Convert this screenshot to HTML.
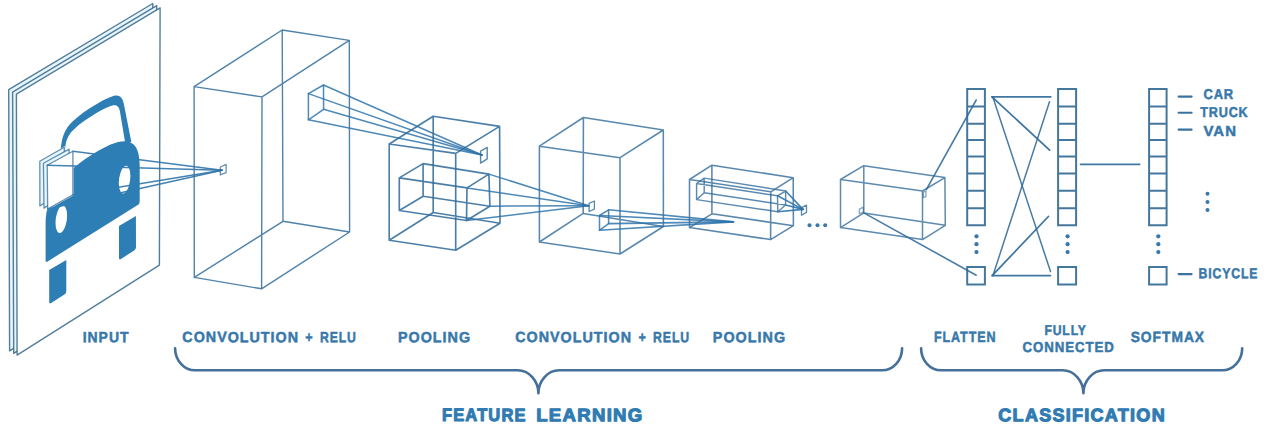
<!DOCTYPE html>
<html lang="en"><head><meta charset="utf-8"><title>CNN architecture</title>
<style>
html,body{margin:0;padding:0;background:#fff;overflow:hidden}
svg{display:block}
text{font-family:"Liberation Sans",sans-serif;font-weight:bold;letter-spacing:0.07em}
</style></head><body>
<svg width="1266" height="430" viewBox="0 0 1266 430">
<rect width="1266" height="430" fill="#fff"/>
<path d="M8.7,89.6 L152.8,3.5 L153.2,260.0 L9.6,350.8 Z" fill="#e8f6fb" stroke="#35678a" stroke-opacity="0.85" stroke-width="1.4" stroke-linejoin="round" stroke-linecap="round"/>
<path d="M12.6,92.1 L156.7,5.7 L156.9,262.0 L13.7,353.3 Z" fill="#e8f6fb" stroke="#35678a" stroke-opacity="0.85" stroke-width="1.4" stroke-linejoin="round" stroke-linecap="round"/>
<path d="M16.4,94.2 L160.1,7.8 L159.4,265.1 L17.1,355.1 Z" fill="#fff" stroke="#35678a" stroke-opacity="0.85" stroke-width="1.4" stroke-linejoin="round" stroke-linecap="round"/>
<path d="M39.8,161.3 L64.3,147.2 L64.6,190.0 L39.9,206.0 Z" fill="#e8f6fb" stroke="#2f6a9a" stroke-opacity="0.75" stroke-width="1.3" stroke-linejoin="round" stroke-linecap="round"/>
<path d="M43.4,163.2 L69.1,149.1 L69.1,192.0 L44.0,208.1 Z" fill="#e8f6fb" stroke="#2f6a9a" stroke-opacity="0.75" stroke-width="1.3" stroke-linejoin="round" stroke-linecap="round"/>
<path d="M47.2,165.2 L72.9,151.2 L72.9,194.8 L47.7,209.0 Z" fill="#fff" stroke="#2f6a9a" stroke-opacity="0.75" stroke-width="1.3" stroke-linejoin="round" stroke-linecap="round"/>
<path d="M47.2,165.2 L222.1,170.2" fill="none" stroke="#2f74aa" stroke-opacity="0.9" stroke-width="1.4" stroke-linejoin="round" stroke-linecap="round"/>
<path d="M72.9,151.2 L222.1,170.2" fill="none" stroke="#2f74aa" stroke-opacity="0.9" stroke-width="1.4" stroke-linejoin="round" stroke-linecap="round"/>
<path d="M72.9,194.8 L222.1,170.2" fill="none" stroke="#2f74aa" stroke-opacity="0.9" stroke-width="1.4" stroke-linejoin="round" stroke-linecap="round"/>
<path d="M47.7,209.0 L222.1,170.2" fill="none" stroke="#2f74aa" stroke-opacity="0.9" stroke-width="1.4" stroke-linejoin="round" stroke-linecap="round"/>
<path d="M220.3,167.0 L226.1,164.4 L226.1,172.7 L220.3,174.9 Z" fill="none" stroke="#2f6a9a" stroke-opacity="0.75" stroke-width="1.3" stroke-linejoin="round" stroke-linecap="round"/>
<mask id="carmask" maskUnits="userSpaceOnUse" x="0" y="0" width="320" height="430"><rect x="0" y="0" width="320" height="430" fill="#fff"/><polygon points="39.8,161.3 64.3,147.2 64.6,190.0 39.9,206.0" fill="#000" stroke="#000" stroke-width="1.4"/><polygon points="43.4,163.2 69.1,149.1 69.1,192.0 44.0,208.1" fill="#000" stroke="#000" stroke-width="1.4"/><polygon points="47.2,165.2 72.9,151.2 72.9,194.8 47.7,209.0" fill="#000" stroke="#000" stroke-width="1.4"/></mask>
<g mask="url(#carmask)" fill="#2d7eb4"><g transform="matrix(1,-0.627,0,1,0,0)">
<path fill-rule="evenodd" d="M45.6,289 L45.6,253 C45.6,223.3 62.1,212.2 92.6,212.2 C123.1,212.2 139.7,223.3 139.7,253 L139.7,289 Q139.7,291.3 137.7,291.3 L47.6,291.3 Q45.6,291.3 45.6,289 Z M61.3,244.4 A5.8,13.3 0 1 0 61.3,271 A5.8,13.3 0 1 0 61.3,244.4 Z M124.6,244.4 A5.8,13.3 0 1 0 124.6,271 A5.8,13.3 0 1 0 124.6,244.4 Z"/>
<path d="M54.4,224 L61.3,183 C62.8,174 66,167.6 76,166.2 C84,164.1 101,164.1 109.4,166.2 C119.4,167.6 122.6,174 124.1,183 L131.3,224 L125.6,224 L119.9,186.5 C118.9,180.5 116.4,176.4 109.4,175.1 C101,172.9 84,172.9 76,175.1 C69,176.4 66.5,180.5 65.5,186.5 L60.1,224 Z"/>
</g>
<path d="M49.2,270.1 L66.3,259.9 L66.3,291.2 Q66.3,293.4 64.4,294.6 L51.2,303 Q49.2,304.3 49.2,302 Z"/>
<path d="M119,226.1 L135.9,215.9 L136,247.2 Q136,249.3 134.1,250.5 L121,258.9 Q119,260.2 119,258 Z"/>
</g>
<path d="M282.2,30.0 L349.3,40.4 L349.6,232.0 L283.0,221.3 Z M194.1,86.6 L262.0,96.9 L261.6,288.8 L194.3,277.4 Z M194.1,86.6 L282.2,30.0 M262.0,96.9 L349.3,40.4 M261.6,288.8 L349.6,232.0 M194.3,277.4 L283.0,221.3" fill="none" stroke="#2f6a9a" stroke-opacity="0.84" stroke-width="1.4" stroke-linejoin="round" stroke-linecap="round"/>
<path d="M308.4,93.6 L323.5,85.0 L323.6,109.3 L308.4,119.8 Z" fill="none" stroke="#2f74aa" stroke-opacity="0.85" stroke-width="1.5" stroke-linejoin="round" stroke-linecap="round"/>
<path d="M308.4,93.6 L482.0,155.0" fill="none" stroke="#2f74aa" stroke-opacity="0.85" stroke-width="1.5" stroke-linejoin="round" stroke-linecap="round"/>
<path d="M323.5,85.0 L482.0,155.0" fill="none" stroke="#2f74aa" stroke-opacity="0.85" stroke-width="1.5" stroke-linejoin="round" stroke-linecap="round"/>
<path d="M323.6,109.3 L482.0,155.0" fill="none" stroke="#2f74aa" stroke-opacity="0.85" stroke-width="1.5" stroke-linejoin="round" stroke-linecap="round"/>
<path d="M308.4,119.8 L482.0,155.0" fill="none" stroke="#2f74aa" stroke-opacity="0.85" stroke-width="1.5" stroke-linejoin="round" stroke-linecap="round"/>
<path d="M433.2,116.2 L499.6,126.4 L500.0,223.3 L433.2,212.5 Z M389.2,144.0 L455.7,153.4 L455.7,250.2 L389.2,240.2 Z M389.2,144.0 L433.2,116.2 M455.7,153.4 L499.6,126.4 M455.7,250.2 L500.0,223.3 M389.2,240.2 L433.2,212.5" fill="none" stroke="#2f6a9a" stroke-opacity="0.86" stroke-width="1.65" stroke-linejoin="round" stroke-linecap="round"/>
<path d="M480.6,151.2 L487.2,147.4 L487.2,158.8 L480.6,163.1 Z" fill="none" stroke="#2f6a9a" stroke-opacity="0.8" stroke-width="1.4" stroke-linejoin="round" stroke-linecap="round"/>
<path d="M423.1,163.6 L488.9,174.1 L489.9,206.2 L423.1,196.2 Z M399.3,177.9 L467.0,187.9 L466.5,220.5 L399.3,210.5 Z M399.3,177.9 L423.1,163.6 M467.0,187.9 L488.9,174.1 M466.5,220.5 L489.9,206.2 M399.3,210.5 L423.1,196.2" fill="none" stroke="#2f6a9a" stroke-opacity="0.86" stroke-width="1.65" stroke-linejoin="round" stroke-linecap="round"/>
<path d="M467.0,187.9 L588.7,205.7" fill="none" stroke="#2f74aa" stroke-opacity="0.85" stroke-width="1.5" stroke-linejoin="round" stroke-linecap="round"/>
<path d="M488.9,174.1 L588.7,205.7" fill="none" stroke="#2f74aa" stroke-opacity="0.85" stroke-width="1.5" stroke-linejoin="round" stroke-linecap="round"/>
<path d="M489.9,206.2 L588.7,205.7" fill="none" stroke="#2f74aa" stroke-opacity="0.85" stroke-width="1.5" stroke-linejoin="round" stroke-linecap="round"/>
<path d="M466.5,220.5 L588.7,205.7" fill="none" stroke="#2f74aa" stroke-opacity="0.85" stroke-width="1.5" stroke-linejoin="round" stroke-linecap="round"/>
<path d="M583.4,117.5 L663.3,130.0 L663.4,226.5 L583.2,213.4 Z M539.4,146.2 L620.0,157.7 L620.0,254.0 L539.4,242.0 Z M539.4,146.2 L583.4,117.5 M620.0,157.7 L663.3,130.0 M620.0,254.0 L663.4,226.5 M539.4,242.0 L583.2,213.4" fill="none" stroke="#2f6a9a" stroke-opacity="0.8" stroke-width="1.55" stroke-linejoin="round" stroke-linecap="round"/>
<path d="M589.1,203.4 L594.4,201.0 L594.4,209.1 L589.1,211.5 Z" fill="none" stroke="#2f6a9a" stroke-opacity="0.8" stroke-width="1.3" stroke-linejoin="round" stroke-linecap="round"/>
<path d="M599.5,215.5 L608.6,209.8 L608.6,223.6 L599.5,230.3 Z" fill="none" stroke="#2f74aa" stroke-opacity="0.85" stroke-width="1.5" stroke-linejoin="round" stroke-linecap="round"/>
<path d="M599.5,215.5 L733.4,221.9" fill="none" stroke="#2f74aa" stroke-opacity="0.85" stroke-width="1.6" stroke-linejoin="round" stroke-linecap="round"/>
<path d="M608.6,209.8 L733.4,221.9" fill="none" stroke="#2f74aa" stroke-opacity="0.85" stroke-width="1.6" stroke-linejoin="round" stroke-linecap="round"/>
<path d="M608.6,223.6 L733.4,221.9" fill="none" stroke="#2f74aa" stroke-opacity="0.85" stroke-width="1.6" stroke-linejoin="round" stroke-linecap="round"/>
<path d="M599.5,230.3 L733.4,221.9" fill="none" stroke="#2f74aa" stroke-opacity="0.85" stroke-width="1.6" stroke-linejoin="round" stroke-linecap="round"/>
<path d="M711.9,165.2 L793.2,177.7 L793.4,225.7 L711.9,213.8 Z M689.5,179.5 L770.8,191.8 L770.6,239.6 L689.5,227.6 Z M689.5,179.5 L711.9,165.2 M770.8,191.8 L793.2,177.7 M770.6,239.6 L793.4,225.7 M689.5,227.6 L711.9,213.8" fill="none" stroke="#2f6a9a" stroke-opacity="0.8" stroke-width="1.55" stroke-linejoin="round" stroke-linecap="round"/>
<path d="M704.2,178.1 L785.7,191.0 L785.6,205.0 L704.2,192.8 Z M696.6,183.5 L777.5,195.8 L777.8,211.7 L696.6,199.6 Z M696.6,183.5 L704.2,178.1 M777.5,195.8 L785.7,191.0 M777.8,211.7 L785.6,205.0 M696.6,199.6 L704.2,192.8" fill="none" stroke="#2f6a9a" stroke-opacity="0.78" stroke-width="1.45" stroke-linejoin="round" stroke-linecap="round"/>
<path d="M777.5,195.8 L803.0,209.4" fill="none" stroke="#2f74aa" stroke-opacity="0.9" stroke-width="1.6" stroke-linejoin="round" stroke-linecap="round"/>
<path d="M785.7,191.0 L803.0,209.4" fill="none" stroke="#2f74aa" stroke-opacity="0.9" stroke-width="1.6" stroke-linejoin="round" stroke-linecap="round"/>
<path d="M785.6,205.0 L803.0,209.4" fill="none" stroke="#2f74aa" stroke-opacity="0.9" stroke-width="1.6" stroke-linejoin="round" stroke-linecap="round"/>
<path d="M777.8,211.7 L803.0,209.4" fill="none" stroke="#2f74aa" stroke-opacity="0.9" stroke-width="1.6" stroke-linejoin="round" stroke-linecap="round"/>
<path d="M801.5,207.6 L806.5,205.1 L806.5,212.4 L801.5,215.2 Z" fill="none" stroke="#2f6a9a" stroke-opacity="0.8" stroke-width="1.3" stroke-linejoin="round" stroke-linecap="round"/>
<path d="M863.8,165.7 L944.9,177.6 L945.3,225.3 L863.8,212.9 Z M840.5,179.5 L922.5,191.0 L922.5,239.6 L840.5,227.6 Z M840.5,179.5 L863.8,165.7 M922.5,191.0 L944.9,177.6 M922.5,239.6 L945.3,225.3 M840.5,227.6 L863.8,212.9" fill="none" stroke="#2f6a9a" stroke-opacity="0.78" stroke-width="1.5" stroke-linejoin="round" stroke-linecap="round"/>
<path d="M923.3,192.2 L926.0,191.2 L926.0,196.4 L923.3,197.6 Z" fill="none" stroke="#2f6a9a" stroke-opacity="0.6" stroke-width="1.3" stroke-linejoin="round" stroke-linecap="round"/>
<path d="M859.3,209.2 L863.3,207.2 L863.3,212.0 L859.3,213.6 Z" fill="none" stroke="#2f6a9a" stroke-opacity="0.6" stroke-width="1.3" stroke-linejoin="round" stroke-linecap="round"/>
<circle cx="809.5" cy="225.2" r="2.0" fill="#3878aa"/>
<circle cx="817.5" cy="225.2" r="2.0" fill="#3878aa"/>
<circle cx="825.2" cy="225.2" r="2.0" fill="#3878aa"/>
<path d="M967.2,89.0 H984.9 V225.2 H967.2 Z M967.2,106.4 H984.9 M967.2,123.7 H984.9 M967.2,139.9 H984.9 M967.2,156.6 H984.9 M967.2,173.4 H984.9 M967.2,190.8 H984.9 M967.2,208.2 H984.9 M967.2,267.1 H984.9 V284.6 H967.2 Z" fill="none" stroke="#3a7099" stroke-opacity="0.95" stroke-width="2.0" stroke-linejoin="miter" stroke-linecap="butt"/>
<circle cx="976.5" cy="236.3" r="2.1" fill="#3878aa"/>
<circle cx="976.5" cy="244.2" r="2.1" fill="#3878aa"/>
<circle cx="976.5" cy="252.1" r="2.1" fill="#3878aa"/>
<path d="M1058.1,89.0 H1076.1 V225.2 H1058.1 Z M1058.1,106.4 H1076.1 M1058.1,123.7 H1076.1 M1058.1,139.9 H1076.1 M1058.1,156.6 H1076.1 M1058.1,173.4 H1076.1 M1058.1,190.8 H1076.1 M1058.1,208.2 H1076.1 M1058.1,267.1 H1076.1 V284.6 H1058.1 Z" fill="none" stroke="#3a7099" stroke-opacity="0.95" stroke-width="2.0" stroke-linejoin="miter" stroke-linecap="butt"/>
<circle cx="1067.6" cy="236.3" r="2.1" fill="#3878aa"/>
<circle cx="1067.6" cy="244.2" r="2.1" fill="#3878aa"/>
<circle cx="1067.6" cy="252.1" r="2.1" fill="#3878aa"/>
<path d="M1149.1,89.0 H1166.6 V225.2 H1149.1 Z M1149.1,106.4 H1166.6 M1149.1,123.7 H1166.6 M1149.1,139.9 H1166.6 M1149.1,156.6 H1166.6 M1149.1,173.4 H1166.6 M1149.1,190.8 H1166.6 M1149.1,208.2 H1166.6 M1149.1,267.1 H1166.6 V284.6 H1149.1 Z" fill="none" stroke="#3a7099" stroke-opacity="0.95" stroke-width="2.0" stroke-linejoin="miter" stroke-linecap="butt"/>
<circle cx="1158.3" cy="236.3" r="2.1" fill="#3878aa"/>
<circle cx="1158.3" cy="244.2" r="2.1" fill="#3878aa"/>
<circle cx="1158.3" cy="252.1" r="2.1" fill="#3878aa"/>
<circle cx="1207.5" cy="193.7" r="2.0" fill="#3878aa"/>
<circle cx="1207.5" cy="202" r="2.0" fill="#3878aa"/>
<circle cx="1207.5" cy="210" r="2.0" fill="#3878aa"/>
<path d="M926.3,189.6 L976.2,100.0" fill="none" stroke="#2f6a9a" stroke-opacity="0.88" stroke-width="1.6" stroke-linejoin="round" stroke-linecap="round"/>
<path d="M863.8,212.9 L976.2,275.2" fill="none" stroke="#2f6a9a" stroke-opacity="0.88" stroke-width="1.6" stroke-linejoin="round" stroke-linecap="round"/>
<path d="M992.0,96.8 L1050.8,96.8" fill="none" stroke="#2f6a9a" stroke-opacity="0.92" stroke-width="1.75" stroke-linejoin="round" stroke-linecap="round"/>
<path d="M992.0,96.8 L1049.6,150.2" fill="none" stroke="#2f6a9a" stroke-opacity="0.92" stroke-width="1.75" stroke-linejoin="round" stroke-linecap="round"/>
<path d="M993.0,97.5 L1050.5,271.5" fill="none" stroke="#2f6a9a" stroke-opacity="0.88" stroke-width="1.5" stroke-linejoin="round" stroke-linecap="round"/>
<path d="M1049.5,101.7 L993.0,275.4" fill="none" stroke="#2f6a9a" stroke-opacity="0.88" stroke-width="1.5" stroke-linejoin="round" stroke-linecap="round"/>
<path d="M992.2,275.6 L1050.4,275.6" fill="none" stroke="#2f6a9a" stroke-opacity="0.92" stroke-width="1.75" stroke-linejoin="round" stroke-linecap="round"/>
<path d="M992.2,275.6 L1048.4,216.5" fill="none" stroke="#2f6a9a" stroke-opacity="0.92" stroke-width="1.75" stroke-linejoin="round" stroke-linecap="round"/>
<path d="M1080.5,164.3 L1139.6,164.3" fill="none" stroke="#2f6a9a" stroke-opacity="0.92" stroke-width="1.75" stroke-linejoin="round" stroke-linecap="round"/>
<path d="M1178.6,96.6 L1191.6,96.6" fill="none" stroke="#2f6a9a" stroke-opacity="0.95" stroke-width="2.1" stroke-linejoin="round" stroke-linecap="round"/>
<path d="M1178.6,112.7 L1191.6,112.7" fill="none" stroke="#2f6a9a" stroke-opacity="0.95" stroke-width="2.1" stroke-linejoin="round" stroke-linecap="round"/>
<path d="M1178.6,129.6 L1191.6,129.6" fill="none" stroke="#2f6a9a" stroke-opacity="0.95" stroke-width="2.1" stroke-linejoin="round" stroke-linecap="round"/>
<path d="M1178.6,274.1 L1191.6,274.1" fill="none" stroke="#2f6a9a" stroke-opacity="0.95" stroke-width="2.1" stroke-linejoin="round" stroke-linecap="round"/>
<path d="M175.1,348.2 C175.1,360.4 184.1,370.3 195.1,370.3 L517.6,370.3 C528.9,370.3 538.4,380.8 538.4,393.3 C538.4,380.8 547.9,370.3 559.1999999999999,370.3 L882.1,370.3 C893.1,370.3 902.1,360.4 902.1,348.2" fill="none" stroke="#44709a" stroke-opacity="1" stroke-width="2.6" stroke-linejoin="round" stroke-linecap="round"/>
<path d="M921.1,348.2 C921.1,360.4 930.1,370.3 941.1,370.3 L1062.6000000000001,370.3 C1073.9,370.3 1083.4,380.8 1083.4,393.3 C1083.4,380.8 1092.9,370.3 1104.2,370.3 L1222.2,370.3 C1233.2,370.3 1242.2,360.4 1242.2,348.2" fill="none" stroke="#44709a" stroke-opacity="1" stroke-width="2.6" stroke-linejoin="round" stroke-linecap="round"/>
<text y="342.16" transform="rotate(0.04 106.1 342.2)" font-size="14.75" fill="#3878aa" stroke="#3878aa" stroke-width="0.5" stroke-linejoin="round"><tspan x="82.68" textLength="46.79" lengthAdjust="spacingAndGlyphs">INPUT</tspan></text>
<text y="342.16" transform="rotate(0.04 269.6 342.2)" font-size="14.75" fill="#3878aa" stroke="#3878aa" stroke-width="0.5" stroke-linejoin="round"><tspan x="182.35" textLength="116.70" lengthAdjust="spacingAndGlyphs">CONVOLUTION</tspan> <tspan x="305.23" textLength="8.27" lengthAdjust="spacingAndGlyphs">+</tspan> <tspan x="320.12" textLength="36.67" lengthAdjust="spacingAndGlyphs">RELU</tspan></text>
<text y="342.16" transform="rotate(0.04 434.5 342.2)" font-size="14.75" fill="#3878aa" stroke="#3878aa" stroke-width="0.5" stroke-linejoin="round"><tspan x="397.93" textLength="73.22" lengthAdjust="spacingAndGlyphs">POOLING</tspan></text>
<text y="342.16" transform="rotate(0.04 602.6 342.2)" font-size="14.75" fill="#3878aa" stroke="#3878aa" stroke-width="0.5" stroke-linejoin="round"><tspan x="515.29" textLength="116.73" lengthAdjust="spacingAndGlyphs">CONVOLUTION</tspan> <tspan x="638.48" textLength="8.23" lengthAdjust="spacingAndGlyphs">+</tspan> <tspan x="653.11" textLength="36.87" lengthAdjust="spacingAndGlyphs">RELU</tspan></text>
<text y="342.16" transform="rotate(0.04 749.5 342.2)" font-size="14.75" fill="#3878aa" stroke="#3878aa" stroke-width="0.5" stroke-linejoin="round"><tspan x="712.82" textLength="73.28" lengthAdjust="spacingAndGlyphs">POOLING</tspan></text>
<text y="342.06" transform="rotate(0.04 965.2 342.1)" font-size="14.75" fill="#3878aa" stroke="#3878aa" stroke-width="0.5" stroke-linejoin="round"><tspan x="934.03" textLength="62.38" lengthAdjust="spacingAndGlyphs">FLATTEN</tspan></text>
<text y="335.06" transform="rotate(0.04 1065.6 335.1)" font-size="14.32" fill="#3878aa" stroke="#3878aa" stroke-width="0.5" stroke-linejoin="round"><tspan x="1044.49" textLength="42.25" lengthAdjust="spacingAndGlyphs">FULLY</tspan></text>
<text y="351.96" transform="rotate(0.04 1068.7 352.0)" font-size="14.46" fill="#3878aa" stroke="#3878aa" stroke-width="0.5" stroke-linejoin="round"><tspan x="1022.56" textLength="92.21" lengthAdjust="spacingAndGlyphs">CONNECTED</tspan></text>
<text y="342.06" transform="rotate(0.04 1167.8 342.1)" font-size="14.75" fill="#3878aa" stroke="#3878aa" stroke-width="0.5" stroke-linejoin="round"><tspan x="1130.63" textLength="74.42" lengthAdjust="spacingAndGlyphs">SOFTMAX</tspan></text>
<text y="421.16" transform="rotate(0.04 542.8 421.2)" font-size="18.1" fill="#2f7bb2" stroke="#2f7bb2" stroke-width="1.1" stroke-linejoin="round"><tspan x="441.96" textLength="84.64" lengthAdjust="spacingAndGlyphs">FEATURE</tspan> <tspan x="536.16" textLength="107.43" lengthAdjust="spacingAndGlyphs">LEARNING</tspan></text>
<text y="421.26" transform="rotate(0.04 1082.1 421.3)" font-size="18.1" fill="#2f7bb2" stroke="#2f7bb2" stroke-width="1.1" stroke-linejoin="round"><tspan x="998.33" textLength="167.59" lengthAdjust="spacingAndGlyphs">CLASSIFICATION</tspan></text>
<text y="99.06" transform="rotate(0.04 1218.8 99.1)" font-size="14.32" fill="#3878aa" stroke="#3878aa" stroke-width="0.5" stroke-linejoin="round"><tspan x="1203.41" textLength="30.70" lengthAdjust="spacingAndGlyphs">CAR</tspan></text>
<text y="116.96" transform="rotate(0.04 1224.4 117.0)" font-size="14.32" fill="#3878aa" stroke="#3878aa" stroke-width="0.5" stroke-linejoin="round"><tspan x="1200.17" textLength="48.44" lengthAdjust="spacingAndGlyphs">TRUCK</tspan></text>
<text y="135.96" transform="rotate(0.04 1220.2 136.0)" font-size="14.46" fill="#3878aa" stroke="#3878aa" stroke-width="0.5" stroke-linejoin="round"><tspan x="1203.42" textLength="33.57" lengthAdjust="spacingAndGlyphs">VAN</tspan></text>
<text y="278.36" transform="rotate(0.04 1228.5 278.4)" font-size="14.46" fill="#3878aa" stroke="#3878aa" stroke-width="0.5" stroke-linejoin="round"><tspan x="1198.61" textLength="59.72" lengthAdjust="spacingAndGlyphs">BICYCLE</tspan></text>
</svg>
</body></html>
